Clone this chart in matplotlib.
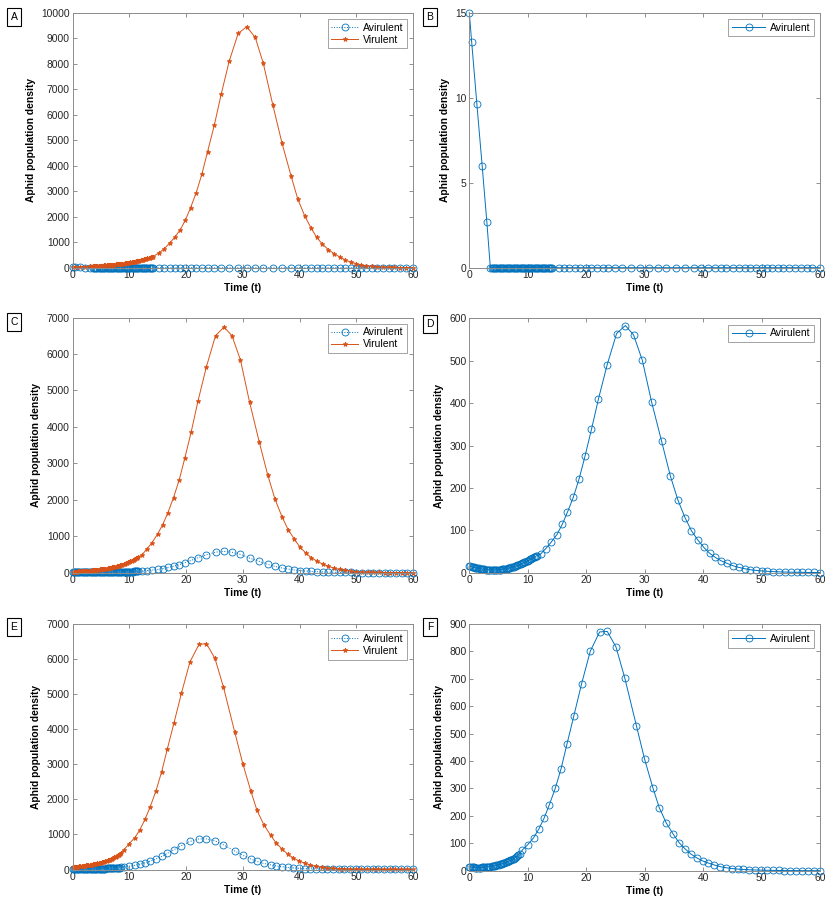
import matplotlib
matplotlib.use("Agg")
import matplotlib.pyplot as plt

plt.rcParams["font.family"] = ["Liberation Sans", "DejaVu Sans"]

BLUE = "#0072BD"
ORANGE = "#D95319"

# scenario 1 (panels A, B): solver output, dense steps first, then coarse steps
t1_dense = [0.0, 0.4, 1.3, 2.2, 3.0,
            3.6, 3.8, 4.0, 4.2, 4.4, 4.6, 4.8, 5.0, 5.2, 5.4, 5.6, 5.8, 6.0, 6.2, 6.4,
            6.6, 6.8, 7.0, 7.2, 7.4, 7.6, 7.8, 8.0, 8.2, 8.4, 8.6, 8.8, 9.0, 9.2, 9.4,
            9.6, 9.8, 10.0, 10.2, 10.4, 10.6, 10.8, 11.0, 11.2, 11.4, 11.6, 11.8, 12.0, 12.2, 12.4,
            12.6, 12.8, 13.0, 13.2, 13.4, 13.6, 13.8, 14.0, 14.2]
t1_sparse = [15.3, 16.2, 17.1, 18.0, 19.0, 19.9, 20.8, 21.8, 22.8, 23.8, 25.0, 26.2, 27.6, 29.2,
             30.7, 32.2, 33.6, 35.3, 36.9, 38.5, 39.7, 40.9, 42.0, 43.0, 44.0, 45.1, 46.1, 47.1,
             48.1, 49.0, 50.0, 50.9, 51.8, 52.8, 53.7, 54.7, 55.7, 56.7, 57.7, 58.7, 60.0]
vir1_dense = [30, 32, 38, 46, 53,
              59, 62, 64, 67, 69, 72, 74, 77, 80, 83, 87, 90, 93, 97, 101,
              104, 108, 113, 117, 121, 126, 131, 136, 141, 147, 152, 158, 164, 170, 177,
              184, 191, 198, 206, 214, 222, 230, 239, 249, 258, 268, 278, 289, 300, 312,
              324, 336, 349, 362, 376, 391, 406, 421, 437]
vir1_sparse = [590, 750, 960, 1190, 1490, 1870, 2350, 2940, 3670, 4550, 5600, 6800, 8090, 9190,
               9450, 9030, 8030, 6380, 4900, 3610, 2690, 2040, 1570, 1200, 930, 710, 550, 420,
               300, 220, 160, 105, 80, 50, 40, 25, 15, 10, 7, 5, 3]
t1 = t1_dense + t1_sparse
vir1 = vir1_dense + vir1_sparse
avir1 = [15.0, 13.3, 9.6, 6.0, 2.7] + [0.0] * (len(t1) - 5)

# scenario 2 (panels C, D)
t2_dense = [0.0, 0.2, 0.4, 0.6, 0.8, 1.0, 1.2, 1.4, 1.6, 1.8, 2.0, 2.2, 2.4, 2.6, 2.8,
            3.0, 3.2, 3.4, 3.6, 3.8, 4.0, 4.2, 4.4, 4.6, 4.8, 5.0, 5.2, 5.4, 5.6, 5.8,
            6.0, 6.2, 6.4, 6.6, 6.8, 7.0, 7.2, 7.4, 7.6, 7.8, 8.0, 8.2, 8.4, 8.6, 8.8,
            9.0, 9.2, 9.4, 9.6, 9.8, 10.0, 10.2, 10.4, 10.6, 10.8, 11.0, 11.2, 11.4, 11.6]
t2_sparse = [12.2, 13.1, 14.0, 15.0, 15.9, 16.8, 17.8, 18.8, 19.8, 20.9, 22.1, 23.6, 25.2, 26.7,
             28.1, 29.6, 31.2, 32.9, 34.4, 35.7, 36.9, 38.0, 39.1, 40.1, 41.1, 42.1, 43.1, 44.1,
             45.1, 46.1, 47.1, 48.1, 49.0, 50.0, 51.0, 52.0, 53.0, 54.0, 55.0, 56.0, 57.0, 58.0,
             59.0, 60.0]
vir2_dense = [25, 26.5, 28, 29.5, 31, 33, 35, 37, 39, 41, 43, 45.5, 48, 50.5, 53,
              56, 59, 62, 65, 68.5, 72, 76, 80, 84, 88, 92, 96, 100.5, 105, 110,
              115, 120.5, 126, 132.5, 139, 145.5, 152, 158.5, 165, 172.5, 180, 189, 198, 208.5, 219,
              229.5, 240, 253, 266, 280.5, 295, 311.5, 328, 345, 362, 380, 398, 416, 434]
vir2_sparse = [480, 650, 820, 1060, 1320, 1640, 2060, 2540, 3150, 3850, 4700, 5650, 6500, 6740,
               6500, 5830, 4680, 3590, 2680, 2010, 1540, 1180, 920, 700, 540, 410, 315, 235,
               175, 125, 88, 62, 45, 32, 22, 15, 10, 7, 5, 4, 3, 2,
               1.5, 1]
avir2_dense = [15.5, 14.7, 14.0, 13.3, 12.6, 11.9, 11.2, 10.6, 10.1, 9.5, 9.0, 8.6, 8.2, 7.8, 7.5,
               7.2, 7.0, 6.8, 6.6, 6.5, 6.4, 6.4, 6.4, 6.5, 6.7, 6.9, 7.2, 7.5, 7.9, 8.3,
               8.8, 9.3, 9.9, 10.5, 11.2, 11.9, 12.6, 13.4, 14.3, 15.2, 16.2, 17.2, 18.3, 19.4, 20.6,
               21.8, 23.0, 24.3, 25.6, 27.0, 28.4, 29.8, 31.3, 32.8, 34.4, 36.0, 37.6, 39.0, 40.5]
avir2_sparse = [44, 57, 72, 90, 114, 143, 178, 222, 275, 338, 410, 491, 564, 583,
                561, 501, 402, 310, 228, 171, 130, 99, 77, 60, 46, 36, 28, 22,
                16.5, 12.6, 9.4, 7.0, 5.5, 4.2, 3.3, 2.6, 2.0, 1.6, 1.2, 1.0, 0.8, 0.6,
                0.5, 0.4]
t2 = t2_dense + t2_sparse
vir2 = vir2_dense + vir2_sparse
avir2 = avir2_dense + avir2_sparse

# scenario 3 (panels E, F)
t3_dense = [0.0, 0.2, 0.4, 0.6, 0.8, 1.0, 1.2, 1.4, 1.6, 1.8, 2.0, 2.2, 2.4, 2.6, 2.8,
            3.0, 3.2, 3.4, 3.6, 3.8, 4.0, 4.2, 4.4, 4.6, 4.8, 5.0, 5.2, 5.4, 5.6, 5.8,
            6.0, 6.2, 6.4, 6.6, 6.8, 7.0, 7.2, 7.4, 7.6, 7.8, 8.0, 8.2, 8.4, 8.6]
t3_sparse = [9.1, 10.0, 11.0, 11.9, 12.8, 13.7, 14.7, 15.7, 16.7, 17.9, 19.2, 20.7, 22.3, 23.6,
             25.1, 26.6, 28.6, 30.0, 31.4, 32.5, 33.7, 34.9, 35.9, 36.9, 37.9, 38.9, 39.9, 40.9,
             41.9, 42.9, 43.9, 44.9, 45.9, 46.9, 47.9, 48.9, 49.9, 50.9, 51.9, 52.9, 53.9, 54.9,
             55.9, 56.9, 57.9, 58.9, 60.0]
vir3_dense = [65, 68.5, 72, 75.5, 79, 83, 87, 91.5, 96, 101, 106, 110.5, 115, 120, 125,
              130.5, 136, 142, 148, 154.5, 161, 168, 175, 182.5, 190, 198.5, 207, 216.5, 226, 236.5,
              247, 259, 271, 284.5, 298, 313, 328, 345, 362, 381, 400, 421, 442, 466]
vir3_sparse = [570, 740, 910, 1140, 1440, 1790, 2240, 2780, 3430, 4190, 5030, 5920, 6420, 6440,
               6020, 5200, 3910, 3020, 2250, 1690, 1280, 980, 750, 590, 440, 330, 245, 180,
               130, 92, 65, 46, 33, 23, 16, 11, 8, 6, 4, 3, 2, 1.5,
               1, 0.8, 0.6, 0.4, 0.3]
avir3_dense = [15, 14, 13, 12.4, 11.8, 11.5, 11.2, 11.1, 11.1, 11.2, 11.4, 11.7, 12.0, 12.4, 12.8,
               13.3, 13.9, 14.5, 15.2, 16.0, 16.8, 17.7, 18.6, 19.6, 20.7, 21.8, 23.0, 24.3, 25.6, 27.1,
               28.6, 30.2, 31.9, 33.7, 35.6, 37.6, 39.7, 42.0, 44.3, 46.8, 49.5, 53, 57, 62]
avir3_sparse = [76, 95, 120, 152, 192, 241, 300, 372, 461, 566, 681, 801, 871, 873,
                816, 703, 528, 406, 303, 230, 174, 133, 102, 80, 61, 47, 36, 28,
                21, 15, 11, 8, 6, 4.5, 3.4, 2.6, 2.0, 1.5, 1.1, 0.8, 0.6, 0.5,
                0.4, 0.3, 0.2, 0.15, 0.1]
t3 = t3_dense + t3_sparse
vir3 = vir3_dense + vir3_sparse
avir3 = avir3_dense + avir3_sparse

xticks = [0, 10, 20, 30, 40, 50, 60]


def style_axes(ax, ymax, ystep):
    ax.set_xlim(0, 60)
    ax.set_ylim(0, ymax)
    ax.set_xticks(xticks)
    ax.set_yticks([ystep * i for i in range(int(round(ymax / ystep)) + 1)])
    ax.tick_params(direction="in", length=3, width=0.6, top=True, right=True,
                   labelsize=7.4, colors="#7f7f7f", labelcolor="#262626", pad=2)
    for s in ax.spines.values():
        s.set_color("#8c8c8c")
        s.set_linewidth(0.7)
    ax.set_xlabel("Time (t)", fontsize=7.4, fontweight="bold", labelpad=2)
    ax.set_ylabel("Aphid population density", fontsize=7.4, fontweight="bold", labelpad=4)


def both_panel(ax, t, avir, vir, ymax):
    ax.plot(t, avir, linestyle=":", linewidth=0.7, color=BLUE, marker="o", markersize=5,
            markerfacecolor="none", markeredgewidth=0.6, label="Avirulent", clip_on=False)
    ax.plot(t, vir, linestyle="-", linewidth=0.7, color=ORANGE, marker="*", markersize=3.5,
            markeredgewidth=0.6, label="Virulent", clip_on=False)
    style_axes(ax, ymax, 1000)
    leg = ax.legend(loc="upper right", fontsize=7.5, fancybox=False, borderaxespad=0.6,
                    handlelength=2.6, borderpad=0.35, labelspacing=0.2, handletextpad=0.4)
    leg.get_frame().set_edgecolor("#8c8c8c")
    leg.get_frame().set_linewidth(0.7)


def avir_panel(ax, t, avir, ymax, ystep):
    ax.plot(t, avir, linestyle="-", linewidth=0.7, color=BLUE, marker="o", markersize=5,
            markerfacecolor="none", markeredgewidth=0.6, label="Avirulent", clip_on=False)
    style_axes(ax, ymax, ystep)
    leg = ax.legend(loc="upper right", fontsize=7.5, fancybox=False, borderaxespad=0.6,
                    handlelength=3.2, borderpad=0.35, handletextpad=0.4)
    leg.get_frame().set_edgecolor("#8c8c8c")
    leg.get_frame().set_linewidth(0.7)


fig = plt.figure(figsize=(8.3, 9.1), dpi=100)
W, H = 830.0, 910.0


def add_ax(left, top, right, bottom):
    return fig.add_axes([left / W, 1 - bottom / H, (right - left) / W, (bottom - top) / H])


axA = add_ax(72.5, 12.7, 413, 267.7)
axB = add_ax(469.3, 12.7, 820, 267.7)
axC = add_ax(72.5, 317.5, 413, 572.7)
axD = add_ax(469.3, 318.3, 820, 572.7)
axE = add_ax(72.5, 624, 413, 869.5)
axF = add_ax(469.3, 624, 820, 870.7)

both_panel(axA, t1, avir1, vir1, 10000)
avir_panel(axB, t1, avir1, 15, 5)
both_panel(axC, t2, avir2, vir2, 7000)
avir_panel(axD, t2, avir2, 600, 100)
both_panel(axE, t3, avir3, vir3, 7000)
avir_panel(axF, t3, avir3, 900, 100)

labels = [("A", 14, 17), ("B", 430, 17), ("C", 14, 322), ("D", 430, 324),
          ("E", 14, 627), ("F", 430, 627)]
for txt, x, y in labels:
    fig.text(x / W, 1 - y / H, txt, fontsize=7.5, ha="center", va="center",
             bbox=dict(boxstyle="square,pad=0.35", facecolor="white", edgecolor="black",
                       linewidth=0.8))

fig.savefig("out.png", dpi=100)
